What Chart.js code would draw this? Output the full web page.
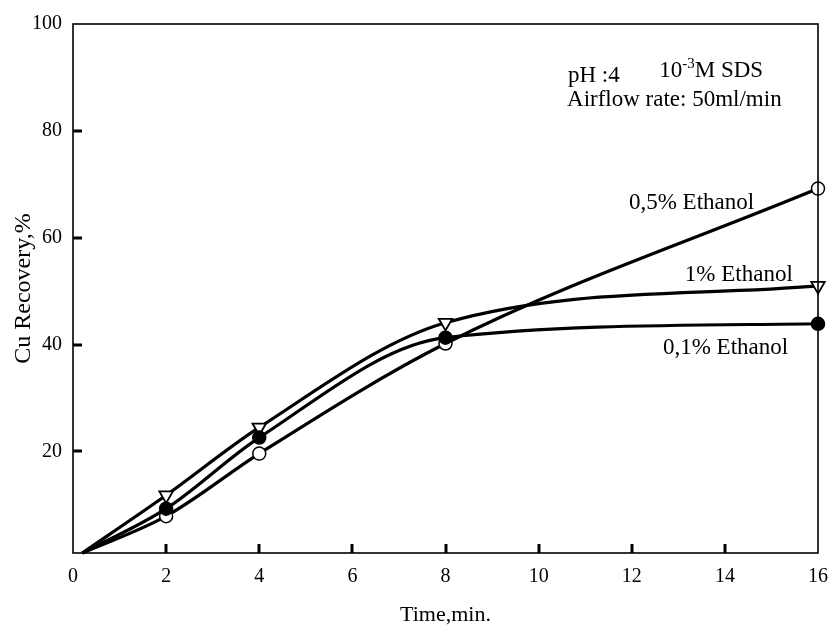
<!DOCTYPE html>
<html><head><meta charset="utf-8">
<script src="https://cdn.jsdelivr.net/npm/chart.js@4/dist/chart.umd.min.js"></script>
<style>html,body{margin:0;padding:0;background:#fff}#wrap{width:831px;height:633px}</style>
</head><body><div id="wrap"><canvas id="c" width="831" height="633"></canvas></div>
<script>
const times = [0.2, 2, 4, 8, 16];
const ethanol01 = [1, 9.3, 22.6, 41.3, 43.9];
const ethanol05 = [1, 7.9, 19.6, 40.2, 69.2];
const ethanol1 = [1, 11.8, 24.5, 44.1, 51.0];
const xTicks = [0, 2, 4, 6, 8, 10, 12, 14, 16];
const yTicks = [20, 40, 60, 80, 100];
const seriesLabels = ['0,1% Ethanol', '0,5% Ethanol', '1% Ethanol'];
const xTitle = 'Time,min.';
const yTitle = 'Cu Recovery,%';

const FONT = 'Liberation Serif';
const pts = arr => times.map((t, i) => ({x: t, y: arr[i]}));
const radii = (r) => times.map((t, i) => i === 0 ? 0 : r);

const annotations = [
  {text: seriesLabels[1], x: 11.94, y: 65.4},
  {text: seriesLabels[2], x: 13.14, y: 51.9},
  {text: seriesLabels[0], x: 12.67, y: 38.2},
];

const decor = {
  id: 'decor',
  afterDraw(chart) {
    const {ctx, chartArea: a, scales: {x, y}} = chart;
    ctx.save();
    ctx.strokeStyle = '#000';
    ctx.lineWidth = 1.6;
    ctx.strokeRect(a.left, a.top, a.right - a.left, a.bottom - a.top);
    ctx.lineWidth = 3;
    xTicks.slice(1, -1).forEach(v => {
      const px = Math.round(x.getPixelForValue(v));
      ctx.beginPath(); ctx.moveTo(px, a.bottom); ctx.lineTo(px, a.bottom - 9); ctx.stroke();
    });
    yTicks.slice(0, -1).forEach(v => {
      const py = Math.round(y.getPixelForValue(v));
      ctx.beginPath(); ctx.moveTo(a.left, py); ctx.lineTo(a.left + 9, py); ctx.stroke();
    });
    ctx.fillStyle = '#000';
    ctx.textBaseline = 'alphabetic';
    ctx.textAlign = 'left';
    ctx.font = '23px "' + FONT + '"';
    annotations.forEach(an => {
      ctx.fillText(an.text, x.getPixelForValue(an.x), y.getPixelForValue(an.y));
    });
    // condition notes
    ctx.fillText('pH :4', x.getPixelForValue(10.63), y.getPixelForValue(89.2));
    let sx = x.getPixelForValue(12.59), sy = y.getPixelForValue(90.1);
    ctx.fillText('10', sx, sy);
    sx += ctx.measureText('10').width;
    ctx.font = '15px "' + FONT + '"';
    ctx.fillText('-3', sx, sy - 9);
    sx += ctx.measureText('-3').width;
    ctx.font = '23px "' + FONT + '"';
    ctx.fillText('M SDS', sx, sy);
    ctx.fillText('Airflow rate: 50ml/min', x.getPixelForValue(10.61), y.getPixelForValue(84.6));
    ctx.restore();
  }
};

new Chart(document.getElementById('c'), {
  type: 'line',
  data: {
    datasets: [
      {label: seriesLabels[0], data: pts(ethanol01), borderColor: '#000', borderWidth: 3.2,
       pointStyle: 'circle', pointRadius: radii(6.5), pointBackgroundColor: '#000', pointBorderColor: '#000', pointBorderWidth: 1.5,
       cubicInterpolationMode: 'monotone', clip: false},
      {label: seriesLabels[1], data: pts(ethanol05), borderColor: '#000', borderWidth: 3.2,
       pointStyle: 'circle', pointRadius: radii(6.5), pointBackgroundColor: '#fff', pointBorderColor: '#000', pointBorderWidth: 1.5,
       cubicInterpolationMode: 'monotone', clip: false},
      {label: seriesLabels[2], data: pts(ethanol1), borderColor: '#000', borderWidth: 3.2,
       pointStyle: 'triangle', rotation: 180, pointRadius: radii(7.8), pointBackgroundColor: '#fff', pointBorderColor: '#000', pointBorderWidth: 1.8,
       cubicInterpolationMode: 'monotone', clip: false},
    ]
  },
  options: {
    responsive: false,
    animation: false,
    layout: {padding: {top: 24, right: 13, left: 0, bottom: 0}},
    plugins: {legend: {display: false}, tooltip: {enabled: false}},
    scales: {
      x: {
        type: 'linear', min: 0, max: 16,
        afterBuildTicks: s => { s.ticks = xTicks.map(v => ({value: v})); },
        afterFit: s => { s.height = 80; s.paddingRight = 0; s.paddingLeft = 0; },
        grid: {display: false, drawTicks: false},
        border: {display: false},
        ticks: {color: '#000', font: {family: FONT, size: 20}, padding: 12, maxRotation: 0, autoSkip: false},
        title: {display: true, text: xTitle, color: '#000', font: {family: FONT, size: 22}, padding: {top: 0, bottom: 5}}
      },
      y: {
        type: 'linear', min: 1, max: 100,
        afterBuildTicks: s => { s.ticks = yTicks.map(v => ({value: v})); },
        afterFit: s => { s.width = 73; s.paddingTop = 0; s.paddingBottom = 0; },
        grid: {display: false, drawTicks: false},
        border: {display: false},
        ticks: {color: '#000', font: {family: FONT, size: 20}, padding: 11, autoSkip: false},
        title: {display: true, text: yTitle, color: '#000', font: {family: FONT, size: 24}, padding: {top: 9, bottom: 0}}
      }
    }
  },
  plugins: [decor]
});
</script>
</body></html>
